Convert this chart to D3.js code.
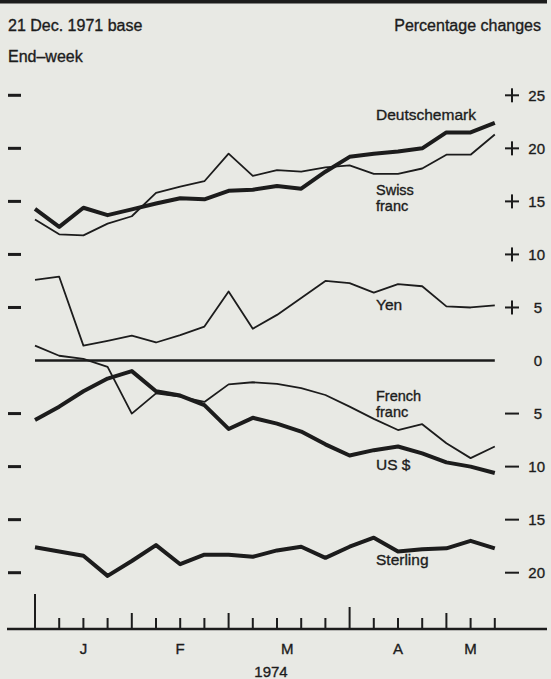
<!DOCTYPE html>
<html>
<head>
<meta charset="utf-8">
<script src="https://cdn.jsdelivr.net/npm/d3@7"></script>
<style>
body { margin: 0; background: #e8e9e4; }
svg text { font-family: "Liberation Sans", sans-serif; fill: #1c1c1c; stroke: #1c1c1c; stroke-width: 0.35px; }
</style>
</head>
<body>
<div id="main"></div>
<script>
// end-week dates, 1974
const weeks = ["1974-01-04", "1974-01-11", "1974-01-18", "1974-01-25",
    "1974-02-01", "1974-02-08", "1974-02-15", "1974-02-22",
    "1974-03-01", "1974-03-08", "1974-03-15", "1974-03-22", "1974-03-29",
    "1974-04-05", "1974-04-12", "1974-04-19", "1974-04-26",
    "1974-05-03", "1974-05-10", "1974-05-17"];

// percentage change against 21 Dec. 1971
const deutschemark = [14.3, 12.6, 14.4, 13.7, 14.25, 14.8, 15.3, 15.2, 16.0, 16.1, 16.45, 16.2, 17.8, 19.2, 19.5, 19.7, 20.0, 21.5, 21.5, 22.4];
const swissFranc = [13.3, 11.9, 11.8, 12.9, 13.6, 15.8, 16.4, 16.9, 19.5, 17.4, 17.95, 17.8, 18.2, 18.4, 17.6, 17.6, 18.1, 19.4, 19.4, 21.3];
const yen = [7.6, 7.9, 1.4, 1.85, 2.35, 1.7, 2.4, 3.2, 6.5, 3.0, 4.3, 5.9, 7.5, 7.3, 6.4, 7.2, 7.0, 5.1, 5.0, 5.2];
const frenchFranc = [1.4, 0.45, 0.15, -0.6, -5.0, -3.1, -3.4, -3.9, -2.25, -2.05, -2.2, -2.6, -3.25, -4.35, -5.5, -6.55, -6.0, -7.8, -9.2, -8.1];
const usDollar = [-5.6, -4.35, -2.9, -1.7, -1.0, -2.9, -3.3, -4.2, -6.45, -5.4, -5.95, -6.7, -7.9, -8.95, -8.45, -8.1, -8.75, -9.6, -10.0, -10.6];
const sterling = [-17.6, -18.0, -18.4, -20.3, -18.9, -17.4, -19.2, -18.3, -18.3, -18.5, -17.9, -17.55, -18.6, -17.55, -16.7, -18.0, -17.8, -17.7, -17.0, -17.7];

const yTicks = [25, 20, 15, 10, 5, 0, -5, -10, -15, -20];
const monthLabels = ["J", "F", "M", "A", "M"];
const monthDates = ["1974-01-18", "1974-02-15", "1974-03-18", "1974-04-19", "1974-05-10"];

ctx = {
    width: 551,
    height: 679,
    ink: "#1c1c1c",
    bg: "#e8e9e4",
};

const parse = d3.timeParse("%Y-%m-%d");
const dates = weeks.map(parse);

let x = d3.scaleTime()
    .domain(d3.extent(dates))
    .range([35, 494.8]);

let y = d3.scaleLinear()
    .domain([-20, 25])
    .range([572.7, 95.3]);

function drawHeader(svg) {
    svg.append("rect")
        .attr("x", 0).attr("y", 0)
        .attr("width", 547).attr("height", 3.5)
        .attr("fill", ctx.ink);

    svg.append("text").attr("x", 8).attr("y", 31)
        .style("font-size", "16px")
        .text("21 Dec. 1971 base");
    svg.append("text").attr("x", 8).attr("y", 62)
        .style("font-size", "16px")
        .text("End–week");
    svg.append("text").attr("x", 541).attr("y", 31)
        .attr("text-anchor", "end")
        .style("font-size", "16px")
        .text("Percentage changes");
}

function drawYAxis(svg) {
    // little bars on the left
    svg.append("g").selectAll("rect")
        .data(yTicks.filter(d => d != 0))
        .enter().append("rect")
        .attr("x", 8)
        .attr("y", d => y(d) - 1.5)
        .attr("width", 13)
        .attr("height", 3)
        .attr("fill", ctx.ink);

    let right = svg.append("g");
    right.selectAll(".num")
        .data(yTicks)
        .enter().append("text")
        .attr("class", "num")
        .attr("x", d => Math.abs(d) < 10 ? 542 : 545)
        .attr("y", d => y(d))
        .attr("dy", "0.36em")
        .attr("text-anchor", "end")
        .style("font-size", "15px")
        .text(d => Math.abs(d));

    // signs drawn as marks: a cross for plus, a bar for minus
    let signs = right.selectAll(".sign")
        .data(yTicks.filter(d => d != 0))
        .enter().append("g")
        .attr("class", "sign")
        .attr("transform", d => "translate(512," + y(d) + ")");
    signs.append("rect")
        .attr("x", -7).attr("y", -1)
        .attr("width", 14).attr("height", 2)
        .attr("fill", ctx.ink);
    signs.filter(d => d > 0).append("rect")
        .attr("x", -1).attr("y", -7)
        .attr("width", 2).attr("height", 14)
        .attr("fill", ctx.ink);

    svg.append("line")
        .attr("x1", x(dates[0])).attr("x2", x(dates[dates.length - 1]))
        .attr("y1", y(0)).attr("y2", y(0))
        .attr("stroke", ctx.ink)
        .attr("stroke-width", 2.6);
}

function drawXAxis(svg) {
    const base = 629;
    svg.append("line")
        .attr("x1", 7).attr("x2", 547)
        .attr("y1", base).attr("y2", base)
        .attr("stroke", ctx.ink)
        .attr("stroke-width", 2.6);

    // first Friday of a month gets a longer tick, Jan and Apr longer still
    function tickLen(d) {
        if (d.getDate() > 7) return 11;
        if (d.getMonth() == 0) return 35;
        if (d.getMonth() == 3) return 22;
        return 16;
    }

    svg.append("g").selectAll("line")
        .data(dates)
        .enter().append("line")
        .attr("x1", d => x(d)).attr("x2", d => x(d))
        .attr("y1", base).attr("y2", d => base - tickLen(d))
        .attr("stroke", ctx.ink)
        .attr("stroke-width", 2);

    svg.append("g").selectAll("text")
        .data(monthLabels)
        .enter().append("text")
        .attr("x", (d, i) => x(parse(monthDates[i])))
        .attr("y", 654)
        .attr("text-anchor", "middle")
        .style("font-size", "15px")
        .text(d => d);

    svg.append("text")
        .attr("x", 271).attr("y", 677)
        .attr("text-anchor", "middle")
        .style("font-size", "15px")
        .text("1974");
}

function drawLines(svg) {
    const series = [
        {values: deutschemark, w: 4, label: ["Deutschemark"], ly: 120},
        {values: swissFranc, w: 1.8, label: ["Swiss", "franc"], ly: 195},
        {values: yen, w: 1.8, label: ["Yen"], ly: 310},
        {values: frenchFranc, w: 1.8, label: ["French", "franc"], ly: 401},
        {values: usDollar, w: 4, label: ["US $"], ly: 470},
        {values: sterling, w: 4, label: ["Sterling"], ly: 565},
    ];

    let line = d3.line()
        .x((d, i) => x(dates[i]))
        .y(d => y(d));

    svg.append("g").selectAll("path")
        .data(series)
        .enter().append("path")
        .attr("d", d => line(d.values))
        .attr("fill", "none")
        .attr("stroke", ctx.ink)
        .attr("stroke-width", d => d.w)
        .attr("stroke-linejoin", "round");

    // two-line labels go in as separate texts
    series.forEach(s => {
        s.label.forEach((l, k) => {
            svg.append("text")
                .attr("x", 376)
                .attr("y", s.ly + k * 16)
                .style("font-size", s.label.length > 1 ? "14.5px" : "15.5px")
                .text(l);
        });
    });
}

function createViz() {
    let svg = d3.select("#main").append("svg")
        .attr("width", ctx.width)
        .attr("height", ctx.height);
    svg.append("rect")
        .attr("width", ctx.width).attr("height", ctx.height)
        .attr("fill", ctx.bg);
    drawHeader(svg);
    drawYAxis(svg);
    drawLines(svg);
    drawXAxis(svg);
}

createViz();
</script>
</body>
</html>
